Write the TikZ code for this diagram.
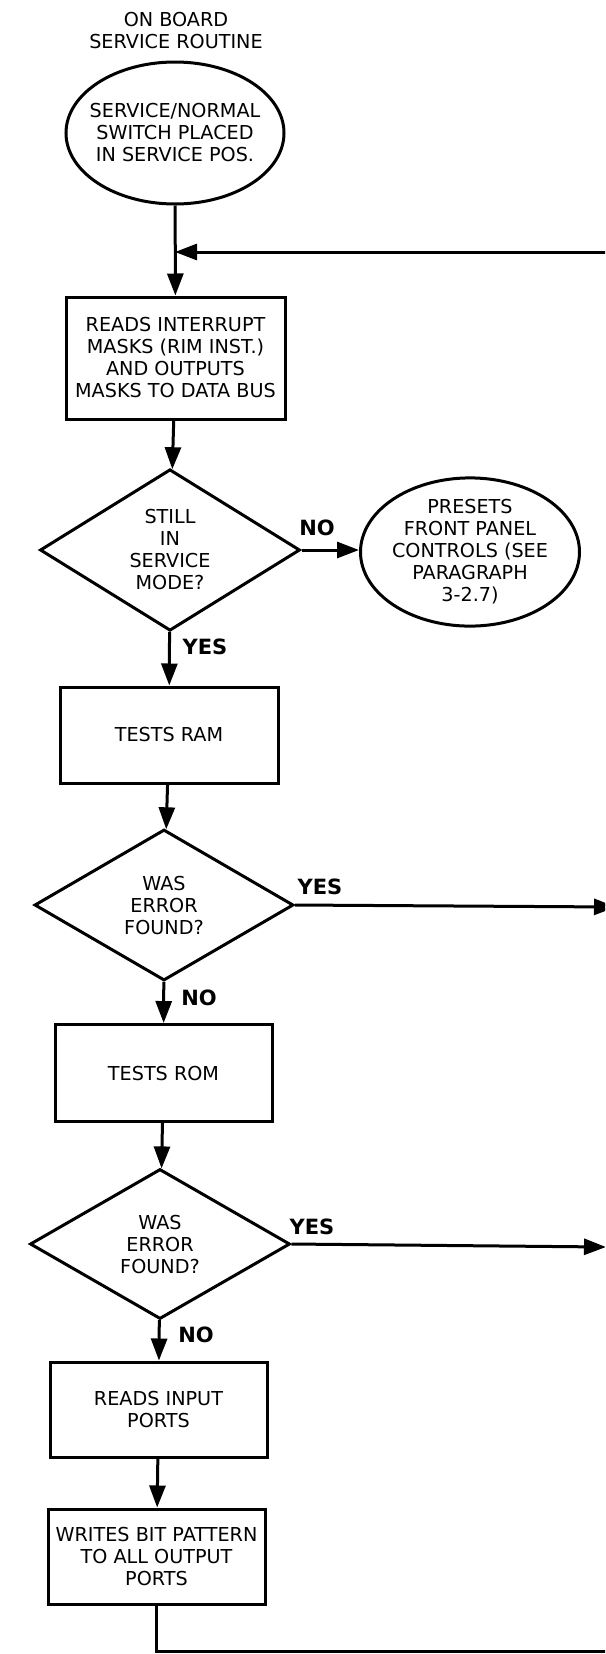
\documentclass[tikz,border=0pt]{standalone}
\usepackage{fontspec}
\setmainfont{DejaVu Sans}
\usetikzlibrary{shapes.geometric,arrows.meta}

\tikzset{
  flow/.style={line width=1.5pt},
  arr/.style={flow,-{Triangle[length=11pt,width=8pt]}},
  body/.style={font=\fontsize{9.6}{11}\selectfont, align=center, inner sep=0pt},
  procbox/.style={body, draw, flow, rectangle},
  termoval/.style={body, draw, flow, ellipse},
  decision/.style={body, draw, flow, diamond, minimum width=130pt, minimum height=76pt},
  answer/.style={font=\fontsize{10.5}{12}\bfseries\selectfont, inner sep=0pt}
}

\begin{document}
\begin{tikzpicture}[x=0.5pt,y=-0.5pt]
  \clip (0,0) rectangle (605,1654);
  \fill[white] (0,0) rectangle (605,1654);

  % title
  \node[body] (title) at (176,31) {ON BOARD\\SERVICE ROUTINE};

  % main column
  \node[termoval, inner xsep=-15pt, minimum width=109pt, minimum height=71pt] (start) at (175,133)
    {SERVICE/NORMAL\\SWITCH PLACED\\IN SERVICE POS.};
  \node[procbox, minimum width=109.5pt, minimum height=61pt] (masks) at (175.5,358)
    {READS INTERRUPT\\MASKS (RIM INST.)\\AND OUTPUTS\\MASKS TO DATA BUS};
  \node[decision] (still) at (170,550) {STILL\\IN\\SERVICE\\MODE?};
  \node[termoval, inner xsep=-4pt, minimum width=109.5pt, minimum height=71.5pt] (preset) at (470,552)
    {PRESETS\\FRONT PANEL\\CONTROLS (SEE\\PARAGRAPH\\3-2.7)};
  \node[procbox, minimum width=109pt, minimum height=48pt] (ram) at (169,735) {TESTS RAM};
  \node[decision, minimum width=129.5pt, minimum height=75.5pt] (errram) at (164,905)
    {WAS\\ERROR\\FOUND?};
  \node[procbox, minimum width=108.5pt, minimum height=48.5pt] (rom) at (163.5,1073) {TESTS ROM};
  \node[decision, minimum height=75pt] (errrom) at (160,1244) {WAS\\ERROR\\FOUND?};
  \node[procbox, minimum width=108.5pt, minimum height=47.5pt] (inports) at (158.5,1409.5)
    {READS INPUT\\PORTS};
  \node[procbox, minimum width=108.5pt, minimum height=47.5pt] (outports) at (156.5,1556.5)
    {WRITES BIT PATTERN\\TO ALL OUTPUT\\PORTS};

  % branch labels
  \node[answer] (no1)  at (317,528)  {NO};
  \node[answer] (yes1) at (205,647)  {YES};
  \node[answer] (yes2) at (320,887)  {YES};
  \node[answer] (no2)  at (199,998)  {NO};
  \node[answer] (yes3) at (312,1227) {YES};
  \node[answer] (no3)  at (196,1335) {NO};

  % loop-back and exit points
  \coordinate (join) at (175,252);
  \coordinate (loopin) at (610,252);
  \coordinate (ramout) at (616,907);
  \coordinate (romout) at (606,1247);
  \coordinate (loopout) at (610,1651);

  % connectors
  \draw[arr] (start) -- (masks);
  \draw[arr] (loopin) -- (join);
  \draw[arr] (masks) -- (still);
  \draw[arr] (still.east) -- (still.east -| preset.west);
  \draw[arr] (still) -- (ram);
  \draw[arr] (ram) -- (errram);
  \draw[arr] (errram.east) -- (ramout);
  \draw[arr] (errram) -- (rom);
  \draw[arr] (rom) -- (errrom);
  \draw[arr] (errrom.east) -- (romout);
  \draw[arr] (errrom) -- (inports);
  \draw[arr] (inports) -- (outports);
  \draw[flow] (outports.south) |- (loopout);
\end{tikzpicture}
\end{document}
